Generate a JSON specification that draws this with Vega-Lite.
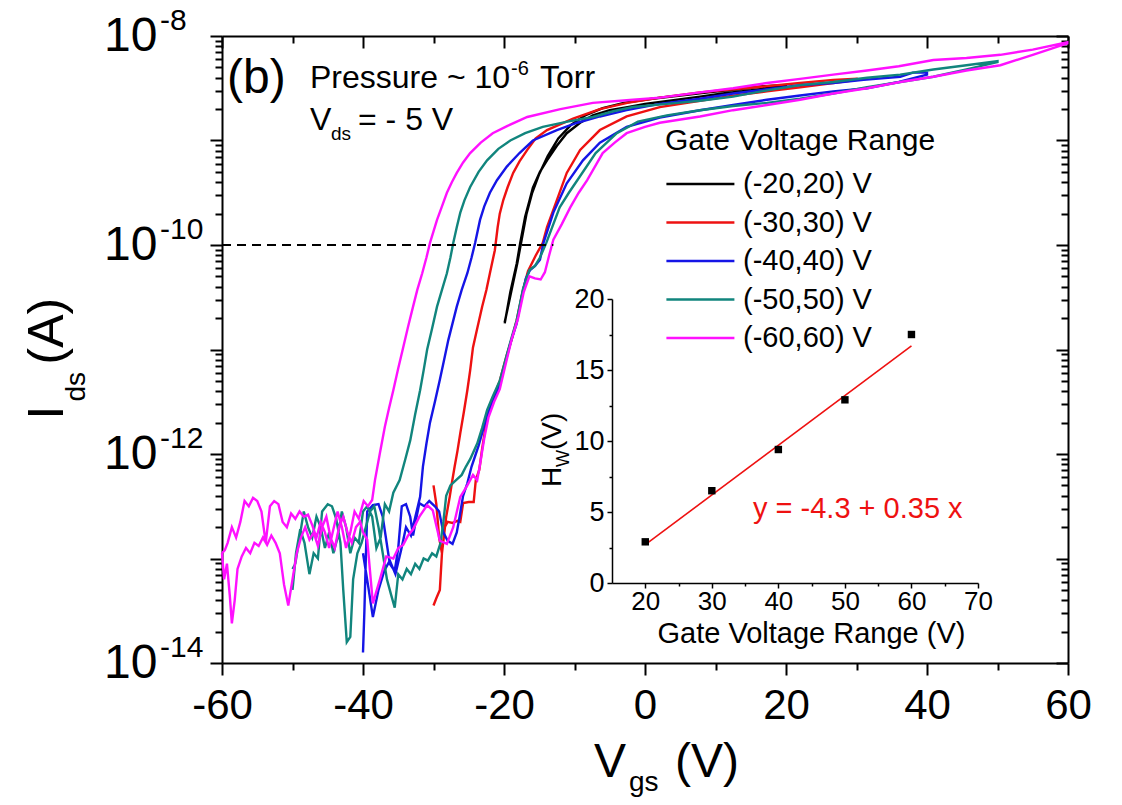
{
  "$schema": "https://vega.github.io/schema/vega-lite/v6.json",
  "width": 846,
  "height": 627,
  "autosize": {"type": "none"},
  "padding": {"left": 222, "top": 36, "right": 54, "bottom": 142},
  "background": "white",
  "config": {
    "font": "Liberation Sans",
    "view": {"stroke": null},
    "axis": {"grid": false, "domainColor": "black", "tickColor": "black", "labelColor": "black", "titleColor": "black", "labelFont": "Liberation Sans", "titleFont": "Liberation Sans"},
    "text": {"font": "Liberation Sans", "color": "black"}
  },
  "datasets": {
    "curves": [
      {"series":"(-20,20) V","vgs":-19.9,"logI":-10.75},{"series":"(-20,20) V","vgs":-19.5,"logI":-10.6},{"series":"(-20,20) V","vgs":-19.1,"logI":-10.45},{"series":"(-20,20) V","vgs":-18.6,"logI":-10.3},{"series":"(-20,20) V","vgs":-18.2,"logI":-10.18},{"series":"(-20,20) V","vgs":-17.7,"logI":-9.98},{"series":"(-20,20) V","vgs":-17.0,"logI":-9.73},{"series":"(-20,20) V","vgs":-16.4,"logI":-9.58},{"series":"(-20,20) V","vgs":-15.9,"logI":-9.45},{"series":"(-20,20) V","vgs":-14.9,"logI":-9.3},{"series":"(-20,20) V","vgs":-13.9,"logI":-9.19},{"series":"(-20,20) V","vgs":-12.5,"logI":-9.05},{"series":"(-20,20) V","vgs":-11.1,"logI":-8.93},{"series":"(-20,20) V","vgs":-9.2,"logI":-8.83},{"series":"(-20,20) V","vgs":-7.4,"logI":-8.76},{"series":"(-20,20) V","vgs":-5.0,"logI":-8.71},{"series":"(-20,20) V","vgs":-2.5,"logI":-8.68},{"series":"(-20,20) V","vgs":0,"logI":-8.65},{"series":"(-20,20) V","vgs":3.5,"logI":-8.62},{"series":"(-20,20) V","vgs":7.8,"logI":-8.58},{"series":"(-20,20) V","vgs":11.0,"logI":-8.55},{"series":"(-20,20) V","vgs":14.9,"logI":-8.52},{"series":"(-20,20) V","vgs":17.5,"logI":-8.5},{"series":"(-20,20) V","vgs":20,"logI":-8.48},
      {"series":"(-20,20) V","vgs":20,"logI":-8.47},{"series":"(-20,20) V","vgs":17,"logI":-8.48},{"series":"(-20,20) V","vgs":13,"logI":-8.51},{"series":"(-20,20) V","vgs":9,"logI":-8.54},{"series":"(-20,20) V","vgs":5,"logI":-8.57},{"series":"(-20,20) V","vgs":1,"logI":-8.6},{"series":"(-20,20) V","vgs":-3,"logI":-8.64},{"series":"(-20,20) V","vgs":-6,"logI":-8.69},{"series":"(-20,20) V","vgs":-8.5,"logI":-8.76},{"series":"(-20,20) V","vgs":-10.5,"logI":-8.85},{"series":"(-20,20) V","vgs":-12.3,"logI":-8.98},{"series":"(-20,20) V","vgs":-13.8,"logI":-9.15},{"series":"(-20,20) V","vgs":-15.0,"logI":-9.32},{"series":"(-20,20) V","vgs":-16.0,"logI":-9.5},{"series":"(-20,20) V","vgs":-16.8,"logI":-9.7},{"series":"(-20,20) V","vgs":-17.5,"logI":-9.95},{"series":"(-20,20) V","vgs":-18.1,"logI":-10.17},{"series":"(-20,20) V","vgs":-18.7,"logI":-10.36},{"series":"(-20,20) V","vgs":-19.3,"logI":-10.55},{"series":"(-20,20) V","vgs":-19.9,"logI":-10.74},

      {"series":"(-30,30) V","vgs":-30.0,"logI":-13.45},{"series":"(-30,30) V","vgs":-29.6,"logI":-13.38},{"series":"(-30,30) V","vgs":-29.1,"logI":-13.3},{"series":"(-30,30) V","vgs":-28.8,"logI":-12.95},{"series":"(-30,30) V","vgs":-28.4,"logI":-12.7},{"series":"(-30,30) V","vgs":-28.0,"logI":-12.65},{"series":"(-30,30) V","vgs":-27.3,"logI":-12.66},{"series":"(-30,30) V","vgs":-26.6,"logI":-12.64},{"series":"(-30,30) V","vgs":-26.2,"logI":-12.65},{"series":"(-30,30) V","vgs":-25.8,"logI":-12.47},{"series":"(-30,30) V","vgs":-25.0,"logI":-12.46},{"series":"(-30,30) V","vgs":-24.3,"logI":-12.46},{"series":"(-30,30) V","vgs":-24.0,"logI":-12.25},{"series":"(-30,30) V","vgs":-23.5,"logI":-12.15},{"series":"(-30,30) V","vgs":-23.1,"logI":-11.95},{"series":"(-30,30) V","vgs":-22.4,"logI":-11.65},{"series":"(-30,30) V","vgs":-21.6,"logI":-11.48},{"series":"(-30,30) V","vgs":-20.6,"logI":-11.3},{"series":"(-30,30) V","vgs":-19.6,"logI":-11.05},{"series":"(-30,30) V","vgs":-18.9,"logI":-10.9},{"series":"(-30,30) V","vgs":-18.2,"logI":-10.72},{"series":"(-30,30) V","vgs":-17.3,"logI":-10.43},{"series":"(-30,30) V","vgs":-16.6,"logI":-10.25},{"series":"(-30,30) V","vgs":-15.5,"logI":-10.1},{"series":"(-30,30) V","vgs":-14.5,"logI":-9.98},{"series":"(-30,30) V","vgs":-13.9,"logI":-9.83},{"series":"(-30,30) V","vgs":-12.5,"logI":-9.57},{"series":"(-30,30) V","vgs":-11.1,"logI":-9.31},{"series":"(-30,30) V","vgs":-9.2,"logI":-9.09},{"series":"(-30,30) V","vgs":-6.4,"logI":-8.9},{"series":"(-30,30) V","vgs":-2.6,"logI":-8.77},{"series":"(-30,30) V","vgs":2.1,"logI":-8.68},{"series":"(-30,30) V","vgs":7.8,"logI":-8.62},{"series":"(-30,30) V","vgs":12.5,"logI":-8.57},{"series":"(-30,30) V","vgs":17.3,"logI":-8.53},{"series":"(-30,30) V","vgs":22,"logI":-8.49},{"series":"(-30,30) V","vgs":26.7,"logI":-8.45},{"series":"(-30,30) V","vgs":30,"logI":-8.42},
      {"series":"(-30,30) V","vgs":30,"logI":-8.41},{"series":"(-30,30) V","vgs":26.7,"logI":-8.42},{"series":"(-30,30) V","vgs":22,"logI":-8.45},{"series":"(-30,30) V","vgs":17.3,"logI":-8.48},{"series":"(-30,30) V","vgs":12.5,"logI":-8.51},{"series":"(-30,30) V","vgs":7.8,"logI":-8.54},{"series":"(-30,30) V","vgs":2.1,"logI":-8.59},{"series":"(-30,30) V","vgs":-2.5,"logI":-8.64},{"series":"(-30,30) V","vgs":-6.4,"logI":-8.7},{"series":"(-30,30) V","vgs":-10.2,"logI":-8.79},{"series":"(-30,30) V","vgs":-13.9,"logI":-8.9},{"series":"(-30,30) V","vgs":-15.5,"logI":-8.98},{"series":"(-30,30) V","vgs":-16.7,"logI":-9.09},{"series":"(-30,30) V","vgs":-17.8,"logI":-9.2},{"series":"(-30,30) V","vgs":-18.7,"logI":-9.31},{"series":"(-30,30) V","vgs":-19.5,"logI":-9.45},{"series":"(-30,30) V","vgs":-20.1,"logI":-9.57},{"series":"(-30,30) V","vgs":-20.6,"logI":-9.7},{"series":"(-30,30) V","vgs":-20.9,"logI":-9.83},{"series":"(-30,30) V","vgs":-21.3,"logI":-10.05},{"series":"(-30,30) V","vgs":-22.0,"logI":-10.27},{"series":"(-30,30) V","vgs":-22.5,"logI":-10.43},{"series":"(-30,30) V","vgs":-23.1,"logI":-10.59},{"series":"(-30,30) V","vgs":-23.8,"logI":-10.8},{"series":"(-30,30) V","vgs":-24.4,"logI":-10.98},{"series":"(-30,30) V","vgs":-24.8,"logI":-11.2},{"series":"(-30,30) V","vgs":-25.2,"logI":-11.39},{"series":"(-30,30) V","vgs":-25.7,"logI":-11.6},{"series":"(-30,30) V","vgs":-26.2,"logI":-11.8},{"series":"(-30,30) V","vgs":-26.6,"logI":-11.97},{"series":"(-30,30) V","vgs":-27.0,"logI":-12.12},{"series":"(-30,30) V","vgs":-27.4,"logI":-12.28},{"series":"(-30,30) V","vgs":-27.7,"logI":-12.41},{"series":"(-30,30) V","vgs":-28.2,"logI":-12.6},{"series":"(-30,30) V","vgs":-28.8,"logI":-12.95},{"series":"(-30,30) V","vgs":-29.2,"logI":-12.8},{"series":"(-30,30) V","vgs":-29.6,"logI":-12.48},{"series":"(-30,30) V","vgs":-30.0,"logI":-12.3},

      {"series":"(-40,40) V","vgs":-40.0,"logI":-13.9},{"series":"(-40,40) V","vgs":-39.8,"logI":-13.5},{"series":"(-40,40) V","vgs":-39.6,"logI":-13.0},{"series":"(-40,40) V","vgs":-39.4,"logI":-12.55},{"series":"(-40,40) V","vgs":-38.6,"logI":-12.49},{"series":"(-40,40) V","vgs":-37.8,"logI":-12.48},{"series":"(-40,40) V","vgs":-37.2,"logI":-12.6},{"series":"(-40,40) V","vgs":-36.8,"logI":-12.78},{"series":"(-40,40) V","vgs":-36.2,"logI":-13.05},{"series":"(-40,40) V","vgs":-35.5,"logI":-13.12},{"series":"(-40,40) V","vgs":-35.0,"logI":-12.9},{"series":"(-40,40) V","vgs":-34.5,"logI":-12.5},{"series":"(-40,40) V","vgs":-33.9,"logI":-12.48},{"series":"(-40,40) V","vgs":-33.3,"logI":-12.6},{"series":"(-40,40) V","vgs":-32.9,"logI":-12.78},{"series":"(-40,40) V","vgs":-32.4,"logI":-12.6},{"series":"(-40,40) V","vgs":-32.0,"logI":-12.47},{"series":"(-40,40) V","vgs":-31.3,"logI":-12.5},{"series":"(-40,40) V","vgs":-30.6,"logI":-12.45},{"series":"(-40,40) V","vgs":-29.8,"logI":-12.5},{"series":"(-40,40) V","vgs":-29.2,"logI":-12.55},{"series":"(-40,40) V","vgs":-28.6,"logI":-12.75},{"series":"(-40,40) V","vgs":-28.0,"logI":-12.83},{"series":"(-40,40) V","vgs":-27.3,"logI":-12.86},{"series":"(-40,40) V","vgs":-26.7,"logI":-12.75},{"series":"(-40,40) V","vgs":-26.3,"logI":-12.6},{"series":"(-40,40) V","vgs":-25.8,"logI":-12.4},{"series":"(-40,40) V","vgs":-25.2,"logI":-12.28},{"series":"(-40,40) V","vgs":-24.6,"logI":-12.12},{"series":"(-40,40) V","vgs":-24.0,"logI":-12.0},{"series":"(-40,40) V","vgs":-23.6,"logI":-11.92},{"series":"(-40,40) V","vgs":-22.9,"logI":-11.75},{"series":"(-40,40) V","vgs":-22.2,"logI":-11.6},{"series":"(-40,40) V","vgs":-21.4,"logI":-11.47},{"series":"(-40,40) V","vgs":-20.6,"logI":-11.34},{"series":"(-40,40) V","vgs":-19.8,"logI":-11.12},{"series":"(-40,40) V","vgs":-19.0,"logI":-10.92},{"series":"(-40,40) V","vgs":-18.2,"logI":-10.75},{"series":"(-40,40) V","vgs":-17.5,"logI":-10.5},{"series":"(-40,40) V","vgs":-16.9,"logI":-10.32},{"series":"(-40,40) V","vgs":-16.3,"logI":-10.24},{"series":"(-40,40) V","vgs":-15.6,"logI":-10.2},{"series":"(-40,40) V","vgs":-14.9,"logI":-10.14},{"series":"(-40,40) V","vgs":-14.4,"logI":-9.98},{"series":"(-40,40) V","vgs":-13.0,"logI":-9.69},{"series":"(-40,40) V","vgs":-11.1,"logI":-9.41},{"series":"(-40,40) V","vgs":-8.8,"logI":-9.19},{"series":"(-40,40) V","vgs":-6.4,"logI":-9.02},{"series":"(-40,40) V","vgs":-2.6,"logI":-8.87},{"series":"(-40,40) V","vgs":2.1,"logI":-8.78},{"series":"(-40,40) V","vgs":7.8,"logI":-8.71},{"series":"(-40,40) V","vgs":12.5,"logI":-8.66},{"series":"(-40,40) V","vgs":17.3,"logI":-8.61},{"series":"(-40,40) V","vgs":22,"logI":-8.57},{"series":"(-40,40) V","vgs":26.7,"logI":-8.53},{"series":"(-40,40) V","vgs":31.5,"logI":-8.5},{"series":"(-40,40) V","vgs":36,"logI":-8.44},{"series":"(-40,40) V","vgs":40,"logI":-8.37},
      {"series":"(-40,40) V","vgs":40,"logI":-8.35},{"series":"(-40,40) V","vgs":38,"logI":-8.35},{"series":"(-40,40) V","vgs":36.2,"logI":-8.39},{"series":"(-40,40) V","vgs":31,"logI":-8.42},{"series":"(-40,40) V","vgs":26.7,"logI":-8.45},{"series":"(-40,40) V","vgs":22,"logI":-8.47},{"series":"(-40,40) V","vgs":17.3,"logI":-8.51},{"series":"(-40,40) V","vgs":12.5,"logI":-8.55},{"series":"(-40,40) V","vgs":7.8,"logI":-8.6},{"series":"(-40,40) V","vgs":2.1,"logI":-8.65},{"series":"(-40,40) V","vgs":-2.6,"logI":-8.71},{"series":"(-40,40) V","vgs":-6.4,"logI":-8.77},{"series":"(-40,40) V","vgs":-9.6,"logI":-8.83},{"series":"(-40,40) V","vgs":-12.5,"logI":-8.9},{"series":"(-40,40) V","vgs":-15.9,"logI":-9.0},{"series":"(-40,40) V","vgs":-17.8,"logI":-9.12},{"series":"(-40,40) V","vgs":-19.6,"logI":-9.25},{"series":"(-40,40) V","vgs":-21.0,"logI":-9.38},{"series":"(-40,40) V","vgs":-22.0,"logI":-9.5},{"series":"(-40,40) V","vgs":-22.8,"logI":-9.63},{"series":"(-40,40) V","vgs":-23.4,"logI":-9.76},{"series":"(-40,40) V","vgs":-24.1,"logI":-9.98},{"series":"(-40,40) V","vgs":-24.6,"logI":-10.12},{"series":"(-40,40) V","vgs":-25.2,"logI":-10.27},{"series":"(-40,40) V","vgs":-26.0,"logI":-10.43},{"series":"(-40,40) V","vgs":-26.7,"logI":-10.59},{"series":"(-40,40) V","vgs":-27.3,"logI":-10.75},{"series":"(-40,40) V","vgs":-27.9,"logI":-10.91},{"series":"(-40,40) V","vgs":-28.5,"logI":-11.1},{"series":"(-40,40) V","vgs":-29.1,"logI":-11.29},{"series":"(-40,40) V","vgs":-29.8,"logI":-11.5},{"series":"(-40,40) V","vgs":-30.5,"logI":-11.7},{"series":"(-40,40) V","vgs":-31.0,"logI":-11.9},{"series":"(-40,40) V","vgs":-31.5,"logI":-12.12},{"series":"(-40,40) V","vgs":-31.9,"logI":-12.41},{"series":"(-40,40) V","vgs":-32.5,"logI":-12.58},{"series":"(-40,40) V","vgs":-33.2,"logI":-12.78},{"series":"(-40,40) V","vgs":-33.9,"logI":-12.7},{"series":"(-40,40) V","vgs":-34.6,"logI":-12.92},{"series":"(-40,40) V","vgs":-35.4,"logI":-13.15},{"series":"(-40,40) V","vgs":-36.2,"logI":-13.02},{"series":"(-40,40) V","vgs":-37.0,"logI":-13.12},{"series":"(-40,40) V","vgs":-37.8,"logI":-13.3},{"series":"(-40,40) V","vgs":-38.6,"logI":-13.56},{"series":"(-40,40) V","vgs":-39.3,"logI":-13.25},{"series":"(-40,40) V","vgs":-40.0,"logI":-12.95},

      {"series":"(-50,50) V","vgs":-50.0,"logI":-13.3},{"series":"(-50,50) V","vgs":-49.5,"logI":-12.95},{"series":"(-50,50) V","vgs":-48.9,"logI":-12.72},{"series":"(-50,50) V","vgs":-48.3,"logI":-12.85},{"series":"(-50,50) V","vgs":-47.6,"logI":-13.15},{"series":"(-50,50) V","vgs":-47.0,"logI":-12.95},{"series":"(-50,50) V","vgs":-46.4,"logI":-13.0},{"series":"(-50,50) V","vgs":-45.8,"logI":-12.55},{"series":"(-50,50) V","vgs":-45.0,"logI":-12.48},{"series":"(-50,50) V","vgs":-44.4,"logI":-12.5},{"series":"(-50,50) V","vgs":-43.8,"logI":-12.62},{"series":"(-50,50) V","vgs":-43.2,"logI":-12.85},{"series":"(-50,50) V","vgs":-42.8,"logI":-13.3},{"series":"(-50,50) V","vgs":-42.3,"logI":-13.8},{"series":"(-50,50) V","vgs":-41.8,"logI":-13.75},{"series":"(-50,50) V","vgs":-41.4,"logI":-13.2},{"series":"(-50,50) V","vgs":-40.8,"logI":-12.95},{"series":"(-50,50) V","vgs":-40.2,"logI":-12.85},{"series":"(-50,50) V","vgs":-39.6,"logI":-12.7},{"series":"(-50,50) V","vgs":-39.0,"logI":-12.55},{"series":"(-50,50) V","vgs":-38.4,"logI":-12.5},{"series":"(-50,50) V","vgs":-37.8,"logI":-12.7},{"series":"(-50,50) V","vgs":-37.2,"logI":-12.95},{"series":"(-50,50) V","vgs":-36.6,"logI":-13.2},{"series":"(-50,50) V","vgs":-36.0,"logI":-13.35},{"series":"(-50,50) V","vgs":-35.5,"logI":-13.47},{"series":"(-50,50) V","vgs":-35.0,"logI":-13.15},{"series":"(-50,50) V","vgs":-34.4,"logI":-13.2},{"series":"(-50,50) V","vgs":-33.8,"logI":-13.1},{"series":"(-50,50) V","vgs":-33.2,"logI":-13.15},{"series":"(-50,50) V","vgs":-32.6,"logI":-13.05},{"series":"(-50,50) V","vgs":-32.0,"logI":-13.1},{"series":"(-50,50) V","vgs":-31.4,"logI":-13.0},{"series":"(-50,50) V","vgs":-30.8,"logI":-13.02},{"series":"(-50,50) V","vgs":-30.2,"logI":-12.95},{"series":"(-50,50) V","vgs":-29.6,"logI":-12.98},{"series":"(-50,50) V","vgs":-29.0,"logI":-12.85},{"series":"(-50,50) V","vgs":-28.6,"logI":-12.65},{"series":"(-50,50) V","vgs":-28.2,"logI":-12.4},{"series":"(-50,50) V","vgs":-27.6,"logI":-12.3},{"series":"(-50,50) V","vgs":-26.8,"logI":-12.25},{"series":"(-50,50) V","vgs":-26.0,"logI":-12.2},{"series":"(-50,50) V","vgs":-25.4,"logI":-12.12},{"series":"(-50,50) V","vgs":-24.8,"logI":-12.05},{"series":"(-50,50) V","vgs":-23.8,"logI":-11.9},{"series":"(-50,50) V","vgs":-23.1,"logI":-11.75},{"series":"(-50,50) V","vgs":-22.4,"logI":-11.58},{"series":"(-50,50) V","vgs":-21.6,"logI":-11.45},{"series":"(-50,50) V","vgs":-20.6,"logI":-11.3},{"series":"(-50,50) V","vgs":-19.6,"logI":-11.05},{"series":"(-50,50) V","vgs":-18.9,"logI":-10.88},{"series":"(-50,50) V","vgs":-18.2,"logI":-10.72},{"series":"(-50,50) V","vgs":-17.3,"logI":-10.42},{"series":"(-50,50) V","vgs":-16.4,"logI":-10.24},{"series":"(-50,50) V","vgs":-15.6,"logI":-10.2},{"series":"(-50,50) V","vgs":-14.9,"logI":-10.12},{"series":"(-50,50) V","vgs":-14.0,"logI":-9.98},{"series":"(-50,50) V","vgs":-13.0,"logI":-9.8},{"series":"(-50,50) V","vgs":-12.1,"logI":-9.64},{"series":"(-50,50) V","vgs":-10.8,"logI":-9.5},{"series":"(-50,50) V","vgs":-9.6,"logI":-9.38},{"series":"(-50,50) V","vgs":-7.0,"logI":-9.12},{"series":"(-50,50) V","vgs":-4.0,"logI":-8.93},{"series":"(-50,50) V","vgs":-1.0,"logI":-8.82},{"series":"(-50,50) V","vgs":3.1,"logI":-8.76},{"series":"(-50,50) V","vgs":7.8,"logI":-8.71},{"series":"(-50,50) V","vgs":12.5,"logI":-8.67},{"series":"(-50,50) V","vgs":17.3,"logI":-8.64},{"series":"(-50,50) V","vgs":22,"logI":-8.6},{"series":"(-50,50) V","vgs":26.7,"logI":-8.55},{"series":"(-50,50) V","vgs":31.5,"logI":-8.49},{"series":"(-50,50) V","vgs":36.2,"logI":-8.44},{"series":"(-50,50) V","vgs":40.9,"logI":-8.39},{"series":"(-50,50) V","vgs":45.6,"logI":-8.32},{"series":"(-50,50) V","vgs":50,"logI":-8.25},
      {"series":"(-50,50) V","vgs":50,"logI":-8.24},{"series":"(-50,50) V","vgs":45.6,"logI":-8.28},{"series":"(-50,50) V","vgs":40.9,"logI":-8.32},{"series":"(-50,50) V","vgs":36.2,"logI":-8.37},{"series":"(-50,50) V","vgs":31.5,"logI":-8.4},{"series":"(-50,50) V","vgs":26.7,"logI":-8.44},{"series":"(-50,50) V","vgs":22,"logI":-8.47},{"series":"(-50,50) V","vgs":17.3,"logI":-8.52},{"series":"(-50,50) V","vgs":12.5,"logI":-8.58},{"series":"(-50,50) V","vgs":7.8,"logI":-8.62},{"series":"(-50,50) V","vgs":3.1,"logI":-8.65},{"series":"(-50,50) V","vgs":-1.7,"logI":-8.68},{"series":"(-50,50) V","vgs":-4.5,"logI":-8.72},{"series":"(-50,50) V","vgs":-7.4,"logI":-8.775},{"series":"(-50,50) V","vgs":-11.0,"logI":-8.82},{"series":"(-50,50) V","vgs":-14.5,"logI":-8.87},{"series":"(-50,50) V","vgs":-17.0,"logI":-8.93},{"series":"(-50,50) V","vgs":-19.1,"logI":-9.0},{"series":"(-50,50) V","vgs":-20.8,"logI":-9.08},{"series":"(-50,50) V","vgs":-22.4,"logI":-9.19},{"series":"(-50,50) V","vgs":-23.6,"logI":-9.3},{"series":"(-50,50) V","vgs":-24.8,"logI":-9.445},{"series":"(-50,50) V","vgs":-25.6,"logI":-9.57},{"series":"(-50,50) V","vgs":-26.2,"logI":-9.69},{"series":"(-50,50) V","vgs":-26.7,"logI":-9.83},{"series":"(-50,50) V","vgs":-27.2,"logI":-9.98},{"series":"(-50,50) V","vgs":-27.6,"logI":-10.12},{"series":"(-50,50) V","vgs":-28.1,"logI":-10.27},{"series":"(-50,50) V","vgs":-28.8,"logI":-10.43},{"series":"(-50,50) V","vgs":-29.5,"logI":-10.59},{"series":"(-50,50) V","vgs":-30.2,"logI":-10.8},{"series":"(-50,50) V","vgs":-30.9,"logI":-11.0},{"series":"(-50,50) V","vgs":-31.4,"logI":-11.2},{"series":"(-50,50) V","vgs":-31.9,"logI":-11.39},{"series":"(-50,50) V","vgs":-32.6,"logI":-11.62},{"series":"(-50,50) V","vgs":-33.3,"logI":-11.87},{"series":"(-50,50) V","vgs":-34.0,"logI":-12.05},{"series":"(-50,50) V","vgs":-34.8,"logI":-12.25},{"series":"(-50,50) V","vgs":-35.7,"logI":-12.37},{"series":"(-50,50) V","vgs":-36.3,"logI":-12.55},{"series":"(-50,50) V","vgs":-36.9,"logI":-12.48},{"series":"(-50,50) V","vgs":-37.5,"logI":-12.8},{"series":"(-50,50) V","vgs":-38.1,"logI":-12.9},{"series":"(-50,50) V","vgs":-38.7,"logI":-12.6},{"series":"(-50,50) V","vgs":-39.4,"logI":-12.5},{"series":"(-50,50) V","vgs":-40.0,"logI":-12.55},{"series":"(-50,50) V","vgs":-40.6,"logI":-12.85},{"series":"(-50,50) V","vgs":-41.2,"logI":-12.8},{"series":"(-50,50) V","vgs":-41.8,"logI":-12.95},{"series":"(-50,50) V","vgs":-42.4,"logI":-12.7},{"series":"(-50,50) V","vgs":-43.0,"logI":-12.55},{"series":"(-50,50) V","vgs":-43.6,"logI":-12.8},{"series":"(-50,50) V","vgs":-44.2,"logI":-12.95},{"series":"(-50,50) V","vgs":-44.8,"logI":-12.75},{"series":"(-50,50) V","vgs":-45.4,"logI":-12.9},{"series":"(-50,50) V","vgs":-46.0,"logI":-12.7},{"series":"(-50,50) V","vgs":-46.6,"logI":-12.6},{"series":"(-50,50) V","vgs":-47.2,"logI":-12.8},{"series":"(-50,50) V","vgs":-47.8,"logI":-12.7},{"series":"(-50,50) V","vgs":-48.4,"logI":-12.55},{"series":"(-50,50) V","vgs":-49.0,"logI":-12.8},{"series":"(-50,50) V","vgs":-49.6,"logI":-13.05},{"series":"(-50,50) V","vgs":-50.0,"logI":-13.1},

      {"series":"(-60,60) V","vgs":-60.0,"logI":-12.95},{"series":"(-60,60) V","vgs":-59.7,"logI":-13.2},{"series":"(-60,60) V","vgs":-59.3,"logI":-13.05},{"series":"(-60,60) V","vgs":-58.9,"logI":-13.35},{"series":"(-60,60) V","vgs":-58.6,"logI":-13.62},{"series":"(-60,60) V","vgs":-58.2,"logI":-13.4},{"series":"(-60,60) V","vgs":-57.8,"logI":-13.1},{"series":"(-60,60) V","vgs":-57.2,"logI":-12.98},{"series":"(-60,60) V","vgs":-56.6,"logI":-12.9},{"series":"(-60,60) V","vgs":-56.0,"logI":-12.95},{"series":"(-60,60) V","vgs":-55.4,"logI":-12.85},{"series":"(-60,60) V","vgs":-54.8,"logI":-12.88},{"series":"(-60,60) V","vgs":-54.2,"logI":-12.8},{"series":"(-60,60) V","vgs":-53.6,"logI":-12.87},{"series":"(-60,60) V","vgs":-53.0,"logI":-12.78},{"series":"(-60,60) V","vgs":-52.4,"logI":-12.85},{"series":"(-60,60) V","vgs":-51.8,"logI":-12.95},{"series":"(-60,60) V","vgs":-51.2,"logI":-13.25},{"series":"(-60,60) V","vgs":-50.6,"logI":-13.45},{"series":"(-60,60) V","vgs":-50.0,"logI":-13.2},{"series":"(-60,60) V","vgs":-49.4,"logI":-12.95},{"series":"(-60,60) V","vgs":-48.8,"logI":-12.8},{"series":"(-60,60) V","vgs":-48.2,"logI":-12.7},{"series":"(-60,60) V","vgs":-47.6,"logI":-12.82},{"series":"(-60,60) V","vgs":-47.0,"logI":-12.75},{"series":"(-60,60) V","vgs":-46.4,"logI":-12.88},{"series":"(-60,60) V","vgs":-45.8,"logI":-12.7},{"series":"(-60,60) V","vgs":-45.2,"logI":-12.6},{"series":"(-60,60) V","vgs":-44.6,"logI":-12.8},{"series":"(-60,60) V","vgs":-44.0,"logI":-12.9},{"series":"(-60,60) V","vgs":-43.4,"logI":-12.7},{"series":"(-60,60) V","vgs":-42.8,"logI":-12.6},{"series":"(-60,60) V","vgs":-42.2,"logI":-12.75},{"series":"(-60,60) V","vgs":-41.6,"logI":-12.85},{"series":"(-60,60) V","vgs":-41.0,"logI":-12.7},{"series":"(-60,60) V","vgs":-40.4,"logI":-12.65},{"series":"(-60,60) V","vgs":-40.0,"logI":-12.75},{"series":"(-60,60) V","vgs":-39.4,"logI":-12.82},{"series":"(-60,60) V","vgs":-38.6,"logI":-13.43},{"series":"(-60,60) V","vgs":-37.6,"logI":-13.2},{"series":"(-60,60) V","vgs":-36.7,"logI":-12.98},{"series":"(-60,60) V","vgs":-35.7,"logI":-13.0},{"series":"(-60,60) V","vgs":-35.0,"logI":-12.9},{"series":"(-60,60) V","vgs":-34.3,"logI":-12.87},{"series":"(-60,60) V","vgs":-33.6,"logI":-12.78},{"series":"(-60,60) V","vgs":-32.9,"logI":-12.72},{"series":"(-60,60) V","vgs":-32.0,"logI":-12.6},{"series":"(-60,60) V","vgs":-30.9,"logI":-12.49},{"series":"(-60,60) V","vgs":-30.1,"logI":-12.54},{"series":"(-60,60) V","vgs":-29.1,"logI":-12.83},{"series":"(-60,60) V","vgs":-28.1,"logI":-12.86},{"series":"(-60,60) V","vgs":-27.2,"logI":-12.7},{"series":"(-60,60) V","vgs":-26.2,"logI":-12.41},{"series":"(-60,60) V","vgs":-25.2,"logI":-12.3},{"series":"(-60,60) V","vgs":-24.4,"logI":-12.2},{"series":"(-60,60) V","vgs":-23.8,"logI":-12.25},{"series":"(-60,60) V","vgs":-23.4,"logI":-12.1},{"series":"(-60,60) V","vgs":-22.8,"logI":-11.85},{"series":"(-60,60) V","vgs":-22.2,"logI":-11.65},{"series":"(-60,60) V","vgs":-21.4,"logI":-11.5},{"series":"(-60,60) V","vgs":-20.6,"logI":-11.38},{"series":"(-60,60) V","vgs":-19.8,"logI":-11.15},{"series":"(-60,60) V","vgs":-18.9,"logI":-10.9},{"series":"(-60,60) V","vgs":-18.0,"logI":-10.7},{"series":"(-60,60) V","vgs":-17.2,"logI":-10.45},{"series":"(-60,60) V","vgs":-16.4,"logI":-10.3},{"series":"(-60,60) V","vgs":-15.6,"logI":-10.32},{"series":"(-60,60) V","vgs":-14.8,"logI":-10.33},{"series":"(-60,60) V","vgs":-14.2,"logI":-10.26},{"series":"(-60,60) V","vgs":-13.6,"logI":-10.1},{"series":"(-60,60) V","vgs":-13.0,"logI":-9.95},{"series":"(-60,60) V","vgs":-11.8,"logI":-9.8},{"series":"(-60,60) V","vgs":-10.6,"logI":-9.64},{"series":"(-60,60) V","vgs":-9.4,"logI":-9.5},{"series":"(-60,60) V","vgs":-8.2,"logI":-9.38},{"series":"(-60,60) V","vgs":-7.1,"logI":-9.25},{"series":"(-60,60) V","vgs":-6.0,"logI":-9.12},{"series":"(-60,60) V","vgs":-4.3,"logI":-9.02},{"series":"(-60,60) V","vgs":-2.6,"logI":-8.93},{"series":"(-60,60) V","vgs":0,"logI":-8.87},{"series":"(-60,60) V","vgs":2.1,"logI":-8.83},{"series":"(-60,60) V","vgs":7.8,"logI":-8.77},{"series":"(-60,60) V","vgs":12.5,"logI":-8.71},{"series":"(-60,60) V","vgs":17.3,"logI":-8.66},{"series":"(-60,60) V","vgs":22.0,"logI":-8.61},{"series":"(-60,60) V","vgs":26.7,"logI":-8.55},{"series":"(-60,60) V","vgs":31.5,"logI":-8.5},{"series":"(-60,60) V","vgs":36.2,"logI":-8.44},{"series":"(-60,60) V","vgs":40.9,"logI":-8.39},{"series":"(-60,60) V","vgs":45.6,"logI":-8.33},{"series":"(-60,60) V","vgs":50.4,"logI":-8.28},{"series":"(-60,60) V","vgs":55,"logI":-8.18},{"series":"(-60,60) V","vgs":59.9,"logI":-8.07},
      {"series":"(-60,60) V","vgs":59.9,"logI":-8.06},{"series":"(-60,60) V","vgs":55,"logI":-8.13},{"series":"(-60,60) V","vgs":50.4,"logI":-8.18},{"series":"(-60,60) V","vgs":45.6,"logI":-8.21},{"series":"(-60,60) V","vgs":40.9,"logI":-8.23},{"series":"(-60,60) V","vgs":36,"logI":-8.29},{"series":"(-60,60) V","vgs":31.5,"logI":-8.33},{"series":"(-60,60) V","vgs":26.7,"logI":-8.37},{"series":"(-60,60) V","vgs":22,"logI":-8.41},{"series":"(-60,60) V","vgs":17.3,"logI":-8.45},{"series":"(-60,60) V","vgs":12.5,"logI":-8.5},{"series":"(-60,60) V","vgs":7.8,"logI":-8.54},{"series":"(-60,60) V","vgs":2.1,"logI":-8.59},{"series":"(-60,60) V","vgs":-1.7,"logI":-8.61},{"series":"(-60,60) V","vgs":-7.4,"logI":-8.64},{"series":"(-60,60) V","vgs":-12.0,"logI":-8.7},{"series":"(-60,60) V","vgs":-16.7,"logI":-8.775},{"series":"(-60,60) V","vgs":-19.5,"logI":-8.86},{"series":"(-60,60) V","vgs":-21.6,"logI":-8.93},{"series":"(-60,60) V","vgs":-23.3,"logI":-9.02},{"series":"(-60,60) V","vgs":-24.8,"logI":-9.12},{"series":"(-60,60) V","vgs":-25.8,"logI":-9.21},{"series":"(-60,60) V","vgs":-26.7,"logI":-9.31},{"series":"(-60,60) V","vgs":-27.4,"logI":-9.4},{"series":"(-60,60) V","vgs":-28.1,"logI":-9.5},{"series":"(-60,60) V","vgs":-28.8,"logI":-9.63},{"series":"(-60,60) V","vgs":-29.5,"logI":-9.76},{"series":"(-60,60) V","vgs":-30.0,"logI":-9.87},{"series":"(-60,60) V","vgs":-30.5,"logI":-9.98},{"series":"(-60,60) V","vgs":-31.0,"logI":-10.12},{"series":"(-60,60) V","vgs":-31.6,"logI":-10.27},{"series":"(-60,60) V","vgs":-32.3,"logI":-10.43},{"series":"(-60,60) V","vgs":-32.9,"logI":-10.59},{"series":"(-60,60) V","vgs":-33.6,"logI":-10.78},{"series":"(-60,60) V","vgs":-34.3,"logI":-10.98},{"series":"(-60,60) V","vgs":-35.0,"logI":-11.18},{"series":"(-60,60) V","vgs":-35.7,"logI":-11.39},{"series":"(-60,60) V","vgs":-36.3,"logI":-11.56},{"series":"(-60,60) V","vgs":-36.9,"logI":-11.74},{"series":"(-60,60) V","vgs":-37.6,"logI":-11.99},{"series":"(-60,60) V","vgs":-38.3,"logI":-12.25},{"series":"(-60,60) V","vgs":-38.7,"logI":-12.44},{"series":"(-60,60) V","vgs":-39.3,"logI":-12.5},{"series":"(-60,60) V","vgs":-39.9,"logI":-12.45},{"series":"(-60,60) V","vgs":-40.6,"logI":-12.62},{"series":"(-60,60) V","vgs":-41.2,"logI":-12.55},{"series":"(-60,60) V","vgs":-41.8,"logI":-12.75},{"series":"(-60,60) V","vgs":-42.4,"logI":-12.9},{"series":"(-60,60) V","vgs":-43.0,"logI":-12.7},{"series":"(-60,60) V","vgs":-43.6,"logI":-12.55},{"series":"(-60,60) V","vgs":-44.2,"logI":-12.72},{"series":"(-60,60) V","vgs":-44.8,"logI":-12.9},{"series":"(-60,60) V","vgs":-45.4,"logI":-12.75},{"series":"(-60,60) V","vgs":-46.0,"logI":-12.65},{"series":"(-60,60) V","vgs":-46.6,"logI":-12.8},{"series":"(-60,60) V","vgs":-47.2,"logI":-12.68},{"series":"(-60,60) V","vgs":-47.8,"logI":-12.58},{"series":"(-60,60) V","vgs":-48.4,"logI":-12.6},{"series":"(-60,60) V","vgs":-49.0,"logI":-12.55},{"series":"(-60,60) V","vgs":-49.6,"logI":-12.62},{"series":"(-60,60) V","vgs":-50.2,"logI":-12.57},{"series":"(-60,60) V","vgs":-50.8,"logI":-12.7},{"series":"(-60,60) V","vgs":-51.4,"logI":-12.65},{"series":"(-60,60) V","vgs":-52.0,"logI":-12.48},{"series":"(-60,60) V","vgs":-52.6,"logI":-12.45},{"series":"(-60,60) V","vgs":-53.2,"logI":-12.5},{"series":"(-60,60) V","vgs":-53.8,"logI":-12.85},{"series":"(-60,60) V","vgs":-54.4,"logI":-12.55},{"series":"(-60,60) V","vgs":-55.0,"logI":-12.45},{"series":"(-60,60) V","vgs":-55.6,"logI":-12.42},{"series":"(-60,60) V","vgs":-56.2,"logI":-12.5},{"series":"(-60,60) V","vgs":-56.8,"logI":-12.45},{"series":"(-60,60) V","vgs":-57.4,"logI":-12.65},{"series":"(-60,60) V","vgs":-58.0,"logI":-12.8},{"series":"(-60,60) V","vgs":-58.6,"logI":-12.7},{"series":"(-60,60) V","vgs":-59.2,"logI":-12.85},{"series":"(-60,60) V","vgs":-59.6,"logI":-12.92},{"series":"(-60,60) V","vgs":-60.0,"logI":-12.95}
    ],
    "decades": [
      {"exponent": "-8", "logI": -8},
      {"exponent": "-10", "logI": -10},
      {"exponent": "-12", "logI": -12},
      {"exponent": "-14", "logI": -14}
    ],
    "hysteresis": [
      {"range": 20, "hw": 2.9},
      {"range": 30, "hw": 6.5},
      {"range": 40, "hw": 9.4},
      {"range": 50, "hw": 12.9},
      {"range": 60, "hw": 17.5}
    ],
    "fit": [
      {"range": 20, "hw": 2.7},
      {"range": 60, "hw": 16.7}
    ]
  },
  "layer": [
    {
      "layer": [
        {
          "data": {"name": "curves"},
          "mark": {"type": "line", "strokeWidth": 2.4},
          "encoding": {
            "x": {
              "field": "vgs", "type": "quantitative",
              "scale": {"domain": [-60, 60], "nice": false, "zero": false},
              "axis": {
                "orient": "bottom", "title": null,
                "values": [-60, -50, -40, -30, -20, -10, 0, 10, 20, 30, 40, 50, 60],
                "labelExpr": "datum.value % 20 == 0 ? '' + datum.value : ''",
                "labelFontSize": 42, "labelPadding": 10, "labelFlush": false, "labelOverlap": false,
                "tickSize": {"condition": {"test": "datum.value % 20 == 0", "value": 12}, "value": 7},
                "tickWidth": 2, "domainWidth": 2
              }
            },
            "y": {
              "field": "logI", "type": "quantitative",
              "scale": {"domain": [-14, -8], "nice": false, "zero": false},
              "axis": {
                "orient": "left", "title": null,
                "values": [-14, -13.699, -13.523, -13.398, -13.301, -13.222, -13.155, -13.097, -13.046, -13, -12.699, -12.523, -12.398, -12.301, -12.222, -12.155, -12.097, -12.046, -12, -11.699, -11.523, -11.398, -11.301, -11.222, -11.155, -11.097, -11.046, -11, -10.699, -10.523, -10.398, -10.301, -10.222, -10.155, -10.097, -10.046, -10, -9.699, -9.523, -9.398, -9.301, -9.222, -9.155, -9.097, -9.046, -9, -8.699, -8.523, -8.398, -8.301, -8.222, -8.155, -8.097, -8.046, -8],
                "labelExpr": "datum.value == -8 || datum.value == -10 || datum.value == -12 || datum.value == -14 ? '10' : ''",
                "labelFontSize": 48, "labelPadding": 53, "labelOverlap": false, "labelFlush": false,
                "tickSize": {"condition": {"test": "datum.value == round(datum.value)", "value": 12}, "value": 7},
                "tickWidth": 2, "domainWidth": 2
              }
            },
            "color": {
              "field": "series", "type": "nominal",
              "scale": {
                "domain": ["(-20,20) V", "(-30,30) V", "(-40,40) V", "(-50,50) V", "(-60,60) V"],
                "range": ["#000000", "#ee1111", "#1515e6", "#11857d", "#ff11ff"]
              },
              "legend": {
                "orient": "none", "legendX": 443, "legendY": 90,
                "title": "Gate Voltage Range", "titleFontSize": 30, "titleFontWeight": "normal", "titleColor": "black", "titlePadding": 13, "titleLimit": 500,
                "labelFontSize": 29, "labelColor": "black", "labelOffset": 48, "labelLimit": 300,
                "rowPadding": 8.5,
                "symbolType": "M-1,0H4", "symbolSize": 740, "symbolStrokeWidth": 2.5
              }
            },
            "order": {"value": null}
          }
        },
        {
          "data": {"values": [{}]},
          "mark": {"type": "rule", "strokeDash": [9, 6], "strokeWidth": 2, "color": "black"},
          "encoding": {
            "x": {
              "datum": -60, "type": "quantitative",
              "axis": {
                "orient": "top", "title": null, "labels": false,
                "values": [-60, -50, -40, -30, -20, -10, 0, 10, 20, 30, 40, 50, 60],
                "tickSize": {"condition": {"test": "datum.value % 20 == 0", "value": -12}, "value": -7},
                "tickWidth": 2, "domainWidth": 2
              }
            },
            "x2": {"datum": -13},
            "y": {
              "datum": -10, "type": "quantitative",
              "axis": {
                "orient": "right", "title": null, "labels": false,
                "values": [-14, -13.699, -13.523, -13.398, -13.301, -13.222, -13.155, -13.097, -13.046, -13, -12.699, -12.523, -12.398, -12.301, -12.222, -12.155, -12.097, -12.046, -12, -11.699, -11.523, -11.398, -11.301, -11.222, -11.155, -11.097, -11.046, -11, -10.699, -10.523, -10.398, -10.301, -10.222, -10.155, -10.097, -10.046, -10, -9.699, -9.523, -9.398, -9.301, -9.222, -9.155, -9.097, -9.046, -9, -8.699, -8.523, -8.398, -8.301, -8.222, -8.155, -8.097, -8.046, -8],
                "tickSize": {"condition": {"test": "datum.value == round(datum.value)", "value": -12}, "value": -7},
                "tickWidth": 2, "domainWidth": 2
              }
            }
          }
        },
        {
          "data": {"name": "decades"},
          "mark": {"type": "text", "align": "left", "baseline": "alphabetic", "fontSize": 30, "dx": -62, "dy": -6},
          "encoding": {"x": {"datum": -60, "type": "quantitative", "axis": null}, "y": {"field": "logI", "type": "quantitative", "axis": null}, "text": {"field": "exponent"}}
        },
        {
          "data": {"values": [{"t": "(b)"}]},
          "mark": {"type": "text", "align": "left", "baseline": "alphabetic", "fontSize": 48, "dx": 5, "dy": 57},
          "encoding": {"x": {"datum": -60, "type": "quantitative", "axis": null}, "y": {"datum": -8, "type": "quantitative", "axis": null}, "text": {"field": "t"}}
        },
        {
          "data": {"values": [{"t": "Pressure ~ 10"}]},
          "mark": {"type": "text", "align": "left", "baseline": "alphabetic", "fontSize": 32, "dx": 88, "dy": 52},
          "encoding": {"x": {"datum": -60, "type": "quantitative", "axis": null}, "y": {"datum": -8, "type": "quantitative", "axis": null}, "text": {"field": "t"}}
        },
        {
          "data": {"values": [{"t": "-6"}]},
          "mark": {"type": "text", "align": "left", "baseline": "alphabetic", "fontSize": 20, "dx": 289, "dy": 39},
          "encoding": {"x": {"datum": -60, "type": "quantitative", "axis": null}, "y": {"datum": -8, "type": "quantitative", "axis": null}, "text": {"field": "t"}}
        },
        {
          "data": {"values": [{"t": "Torr"}]},
          "mark": {"type": "text", "align": "left", "baseline": "alphabetic", "fontSize": 32, "dx": 318, "dy": 52},
          "encoding": {"x": {"datum": -60, "type": "quantitative", "axis": null}, "y": {"datum": -8, "type": "quantitative", "axis": null}, "text": {"field": "t"}}
        },
        {
          "data": {"values": [{"t": "V"}]},
          "mark": {"type": "text", "align": "left", "baseline": "alphabetic", "fontSize": 32, "dx": 88, "dy": 94},
          "encoding": {"x": {"datum": -60, "type": "quantitative", "axis": null}, "y": {"datum": -8, "type": "quantitative", "axis": null}, "text": {"field": "t"}}
        },
        {
          "data": {"values": [{"t": "ds"}]},
          "mark": {"type": "text", "align": "left", "baseline": "alphabetic", "fontSize": 19, "dx": 109, "dy": 104},
          "encoding": {"x": {"datum": -60, "type": "quantitative", "axis": null}, "y": {"datum": -8, "type": "quantitative", "axis": null}, "text": {"field": "t"}}
        },
        {
          "data": {"values": [{"t": "= - 5 V"}]},
          "mark": {"type": "text", "align": "left", "baseline": "alphabetic", "fontSize": 32, "dx": 136, "dy": 94},
          "encoding": {"x": {"datum": -60, "type": "quantitative", "axis": null}, "y": {"datum": -8, "type": "quantitative", "axis": null}, "text": {"field": "t"}}
        },
        {
          "data": {"values": [{"t": "I"}]},
          "mark": {"type": "text", "align": "left", "baseline": "alphabetic", "angle": 270, "fontSize": 50, "dx": -70, "dy": -159},
          "encoding": {"x": {"datum": -60, "type": "quantitative", "axis": null}, "y": {"datum": -11, "type": "quantitative", "axis": null}, "text": {"field": "t"}}
        },
        {
          "data": {"values": [{"t": "ds"}]},
          "mark": {"type": "text", "align": "left", "baseline": "alphabetic", "angle": 270, "fontSize": 28, "dx": -52, "dy": -137},
          "encoding": {"x": {"datum": -60, "type": "quantitative", "axis": null}, "y": {"datum": -11, "type": "quantitative", "axis": null}, "text": {"field": "t"}}
        },
        {
          "data": {"values": [{"t": "(A)"}]},
          "mark": {"type": "text", "align": "left", "baseline": "alphabetic", "angle": 270, "fontSize": 50, "dx": -15, "dy": -159},
          "encoding": {"x": {"datum": -60, "type": "quantitative", "axis": null}, "y": {"datum": -11, "type": "quantitative", "axis": null}, "text": {"field": "t"}}
        },
        {
          "data": {"values": [{"t": "V"}]},
          "mark": {"type": "text", "align": "left", "baseline": "alphabetic", "fontSize": 48, "dx": -51, "dy": 114},
          "encoding": {"x": {"datum": 0, "type": "quantitative", "axis": null}, "y": {"datum": -14, "type": "quantitative", "axis": null}, "text": {"field": "t"}}
        },
        {
          "data": {"values": [{"t": "gs"}]},
          "mark": {"type": "text", "align": "left", "baseline": "alphabetic", "fontSize": 28, "dx": -16, "dy": 128},
          "encoding": {"x": {"datum": 0, "type": "quantitative", "axis": null}, "y": {"datum": -14, "type": "quantitative", "axis": null}, "text": {"field": "t"}}
        },
        {
          "data": {"values": [{"t": "(V)"}]},
          "mark": {"type": "text", "align": "left", "baseline": "alphabetic", "fontSize": 48, "dx": 30, "dy": 114},
          "encoding": {"x": {"datum": 0, "type": "quantitative", "axis": null}, "y": {"datum": -14, "type": "quantitative", "axis": null}, "text": {"field": "t"}}
        }
      ],
      "resolve": {"axis": {"x": "independent", "y": "independent"}}
    },
    {
      "layer": [
        {
          "data": {"name": "fit"},
          "mark": {"type": "line", "color": "#ee1111", "strokeWidth": 1.6},
          "encoding": {
            "x": {
              "field": "range", "type": "quantitative",
              "scale": {"domain": [15, 70], "range": [390, 756], "nice": false, "zero": false},
              "axis": {
                "orient": "bottom", "offset": -80, "title": "Gate Voltage Range (V)",
                "titleFontSize": 29, "titleFontWeight": "normal", "titleX": 589, "titleY": 59, "titleBaseline": "alphabetic", "titleAlign": "center",
                "values": [20, 25, 30, 35, 40, 45, 50, 55, 60, 65, 70],
                "labelExpr": "datum.value % 10 == 0 ? '' + datum.value : ''",
                "labelFontSize": 26, "labelPadding": 0, "labelFlush": false, "labelOverlap": false,
                "tickSize": {"condition": {"test": "datum.value % 10 == 0", "value": 5}, "value": 3},
                "tickWidth": 1.5, "domainWidth": 1.5
              }
            },
            "y": {
              "field": "hw", "type": "quantitative",
              "scale": {"domain": [0, 20], "range": [547, 263], "nice": false, "zero": false},
              "axis": {
                "orient": "left", "offset": -390, "title": null,
                "values": [0, 2.5, 5, 7.5, 10, 12.5, 15, 17.5, 20],
                "labelExpr": "datum.value % 5 == 0 ? '' + datum.value : ''",
                "labelFontSize": 27, "labelPadding": 3, "labelFlush": false, "labelOverlap": false,
                "tickSize": {"condition": {"test": "datum.value % 5 == 0", "value": 5}, "value": 3},
                "tickWidth": 1.5, "domainWidth": 1.5
              }
            },
            "order": {"value": null}
          }
        },
        {
          "data": {"name": "hysteresis"},
          "mark": {"type": "square", "size": 55, "color": "black", "opacity": 1},
          "encoding": {
            "x": {"field": "range", "type": "quantitative"},
            "y": {"field": "hw", "type": "quantitative"}
          }
        },
        {
          "data": {"values": [{"t": "y = -4.3 + 0.35 x"}]},
          "mark": {"type": "text", "align": "left", "baseline": "alphabetic", "fontSize": 29, "color": "#ee1111", "dx": 141, "dy": -65},
          "encoding": {"x": {"datum": 15, "type": "quantitative"}, "y": {"datum": 0, "type": "quantitative"}, "text": {"field": "t"}}
        },
        {
          "data": {"values": [{"t": "H"}]},
          "mark": {"type": "text", "align": "left", "baseline": "alphabetic", "angle": 270, "fontSize": 28, "dx": -46, "dy": -51},
          "encoding": {"x": {"datum": 15, "type": "quantitative"}, "y": {"datum": 10, "type": "quantitative"}, "text": {"field": "t"}}
        },
        {
          "data": {"values": [{"t": "W"}]},
          "mark": {"type": "text", "align": "left", "baseline": "alphabetic", "angle": 270, "fontSize": 18, "dx": -26, "dy": -43},
          "encoding": {"x": {"datum": 15, "type": "quantitative"}, "y": {"datum": 10, "type": "quantitative"}, "text": {"field": "t"}}
        },
        {
          "data": {"values": [{"t": "(V)"}]},
          "mark": {"type": "text", "align": "left", "baseline": "alphabetic", "angle": 270, "fontSize": 28, "dx": -9, "dy": -51},
          "encoding": {"x": {"datum": 15, "type": "quantitative"}, "y": {"datum": 10, "type": "quantitative"}, "text": {"field": "t"}}
        }
      ]
    }
  ],
  "resolve": {"scale": {"x": "independent", "y": "independent"}, "axis": {"x": "independent", "y": "independent"}}
}
